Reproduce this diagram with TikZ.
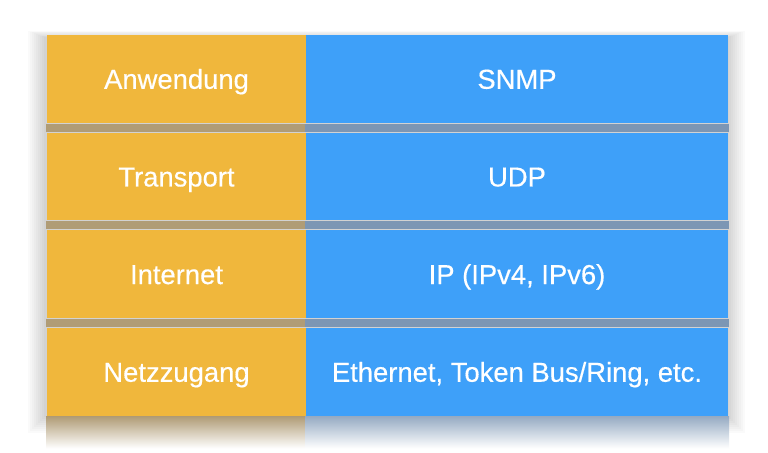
\documentclass[tikz,border=0pt]{standalone}
\usepackage{fontspec}
\setmainfont{Liberation Sans}
\newfontfamily\layerfont{Liberation Sans}[FakeBold=0.4]
\usetikzlibrary{calc}
\definecolor{layerorange}{RGB}{240,183,60}
\definecolor{layerblue}{RGB}{62,160,249}
\definecolor{gaporange}{RGB}{176,156,118}
\definecolor{gapblue}{RGB}{124,150,180}
\begin{document}
\begin{tikzpicture}[x=0.5pt,y=-0.5pt,line width=1pt,
  cell/.style={inner sep=0pt,anchor=north west,text=white,minimum height=43.75pt,
    text height=10pt,text depth=0pt,font=\layerfont\fontsize{13.7}{16}\selectfont},
  leftcell/.style={cell,fill=layerorange,minimum width=129.5pt},
  rightcell/.style={cell,fill=layerblue,minimum width=211pt}]
\useasboundingbox[fill=white] (0,0) rectangle (768,452);
\coordinate (tl) at (46,34); \coordinate (br) at (727,415);
% soft shadow round the table
\foreach \d in {2,4,...,18}
\fill[black,opacity=0.018] ($(tl)+(-\d,-0.4*\d+4)$) rectangle ($(br)+(\d,\d)$);
% layers
\node[leftcell]  (anw) at (46,34)     {Anwendung};
\node[rightcell] (snmp) at (305,34)   {SNMP};
\node[leftcell]  (trans) at (46,131.7) {Transport};
\node[rightcell] (udp) at (305,131.7)  {UDP};
\node[leftcell]  (inet) at (46,229.3)  {Internet};
\node[rightcell] (ip) at (305,229.3)   {IP (IPv4, IPv6)};
\node[leftcell]  (netz) at (46,327)    {Netzzugang};
\node[rightcell] (eth) at (305,327)    {Ethernet, Token Bus/Ring, etc.};
% shadows between the layers
\fill[gaporange] (anw.south west) rectangle (trans.north east);
\fill[gapblue] (snmp.south west) rectangle (udp.north east);
\fill[gaporange] (trans.south west) rectangle (inet.north east);
\fill[gapblue] (udp.south west) rectangle (ip.north east);
\fill[gaporange] (inet.south west) rectangle (netz.north east);
\fill[gapblue] (ip.south west) rectangle (eth.north east);
% reflection under the table
\shade[top color=gaporange,bottom color=white] (netz.south west) rectangle ($(netz.south east)+(0,32)$);
\shade[top color=gapblue!80,bottom color=white] (eth.south west) rectangle ($(eth.south east)+(0,32)$);
\end{tikzpicture}
\end{document}
